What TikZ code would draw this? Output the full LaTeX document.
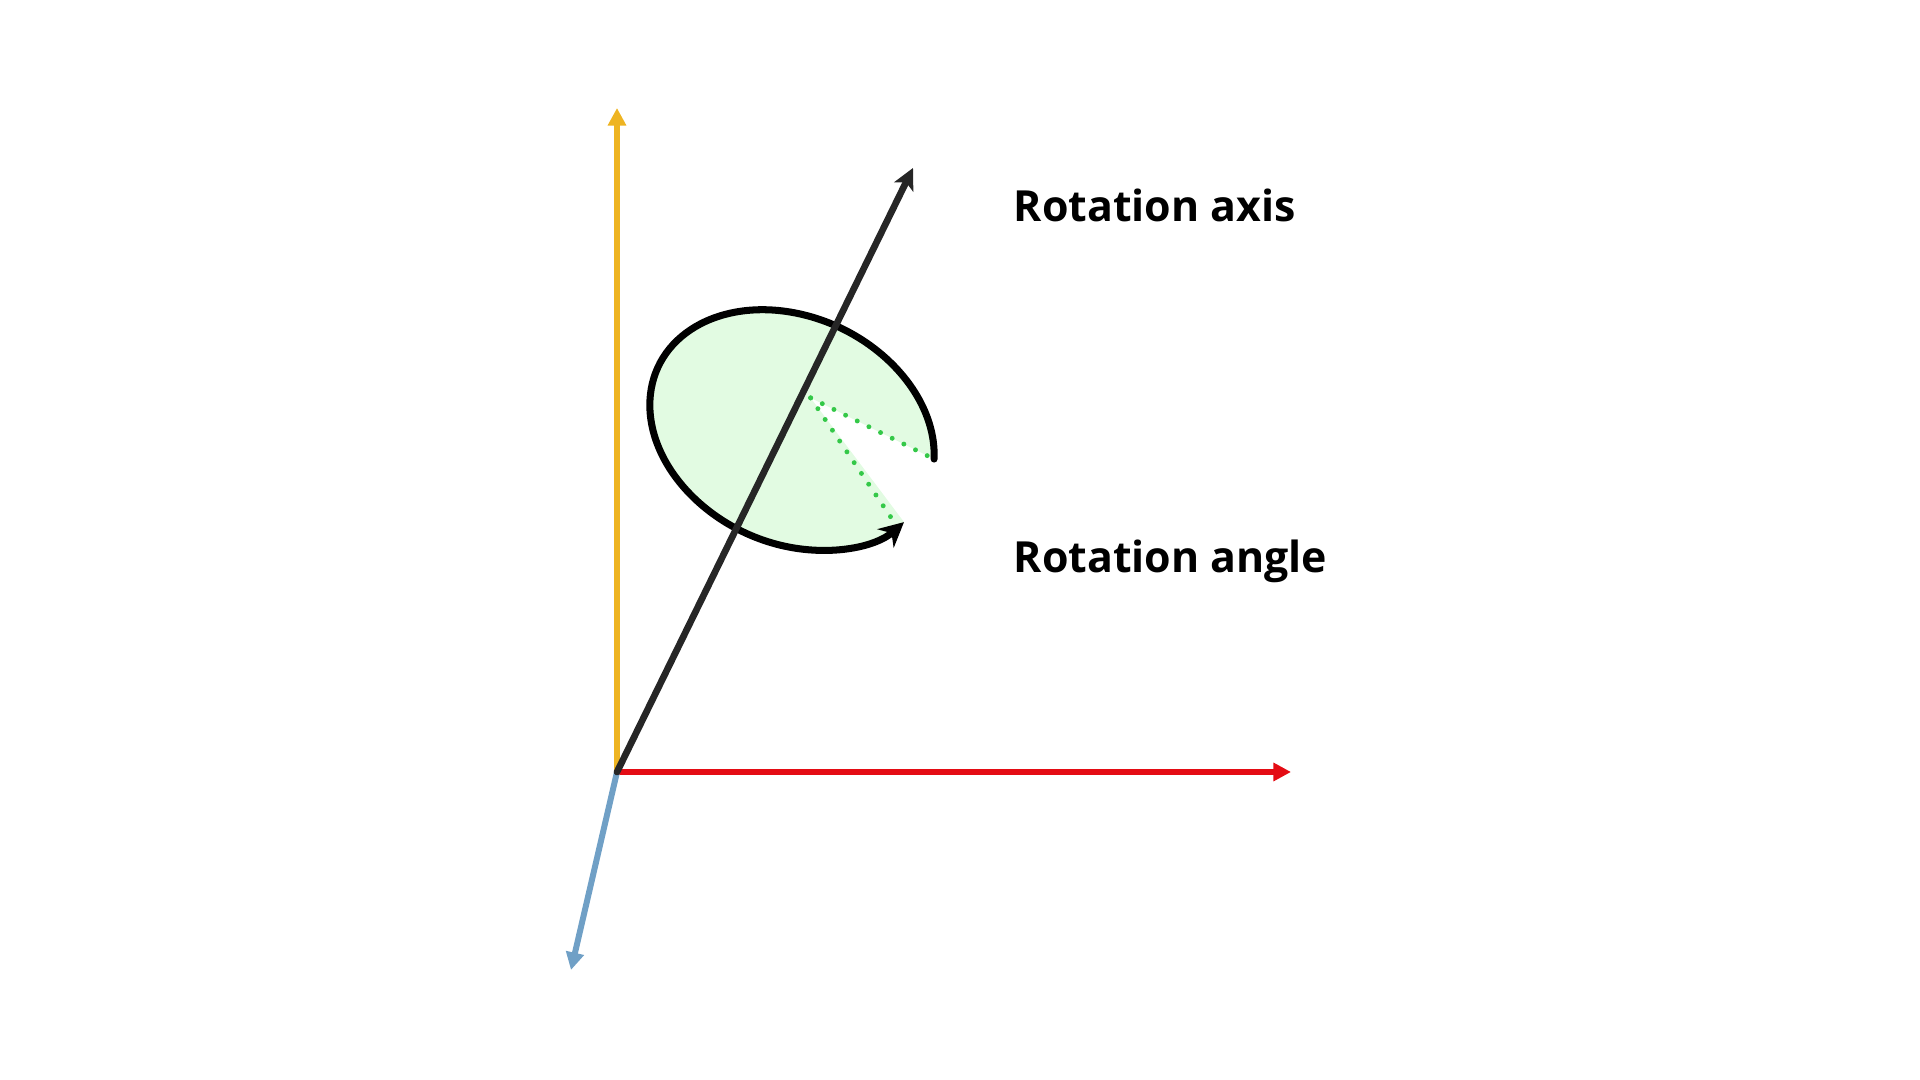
\documentclass[tikz,border=0pt]{standalone}
\usepackage{fontspec}
\newfontfamily\labelfont{Open Sans}
\usepackage{tikz}
\usetikzlibrary{arrows.meta}
\definecolor{axisyellow}{RGB}{238,180,34}
\definecolor{axisred}{RGB}{228,12,20}
\definecolor{axisblue}{RGB}{112,160,198}
\definecolor{axisblack}{RGB}{38,38,38}
\definecolor{discgreen}{RGB}{226,251,226}
\definecolor{dotgreen}{RGB}{52,200,72}

\begin{document}
\begin{tikzpicture}[line cap=round,line join=round,x=1cm,y=1cm]
\useasboundingbox (0,0) rectangle (19.2,10.8);
\tikzset{axis/.style={line width=1.7pt,-{Triangle[length=5pt,width=5pt]}},
  turn/.style={line width=2pt,-{Stealth[length=7pt,width=7pt]}},
  dotline/.style={dotgreen,line width=1.4pt,dash pattern=on 0pt off 3.7pt},
  label/.style={anchor=base west,inner sep=0pt,font=\labelfont\bfseries\fontsize{12.2}{15}\selectfont}}
\coordinate (O) at (6.17,3.08);
\coordinate (Ytip) at (6.17,9.72);
\coordinate (Xtip) at (12.91,3.08);
\coordinate (Ztip) at (5.71,1.10);
\coordinate (Rtip) at (9.13,9.12);
\coordinate (C) at (7.92,6.50);
% coordinate axes
\draw [axis,axisyellow] (O) -- (Ytip);
\draw [axis,axisred] (O) -- (Xtip);
\draw [axis,axisblue] (O) -- (Ztip);
% disc with the turning arrow
\begin{scope}[shift={(C)},rotate=-25.5]
\coordinate (apex) at (0.03,0.37);
\fill [discgreen] (apex) -- (18:1.48 and 1.13) arc[start angle=18,end angle=342,x radius=1.48,y radius=1.13] -- cycle;
\draw [dotline] (apex) -- (18:1.48 and 1.13);
\draw [dotline] (apex) -- (338:1.48 and 1.13);
\draw [turn,black] (18:1.48 and 1.13) arc[start angle=18,end angle=342,x radius=1.48,y radius=1.13];
\end{scope}
% rotation axis
\draw [axisblack,line width=1.9pt,-{Stealth[length=6pt,width=6pt,inset=1.5pt]}] (O) -- (Rtip);
\node [label] (axislabel) at (10.13,8.58) {Rotation axis};
\node [label] (anglelabel) at (10.13,5.07) {Rotation angle};
\end{tikzpicture}
\end{document}
